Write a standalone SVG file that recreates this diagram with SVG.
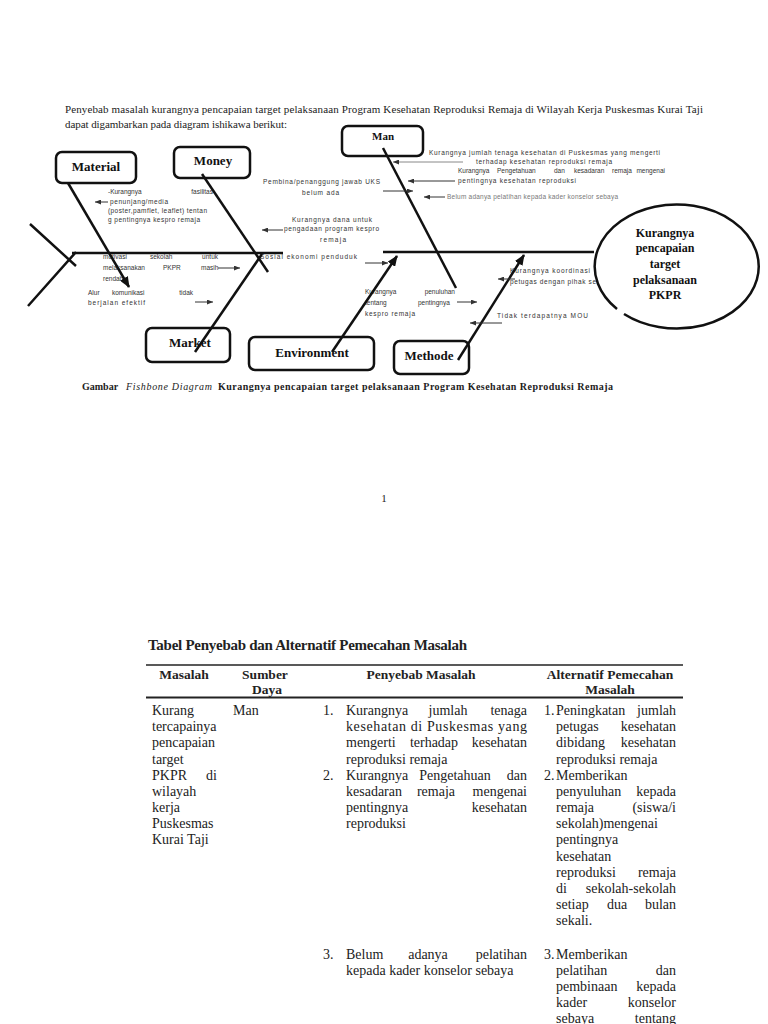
<svg xmlns="http://www.w3.org/2000/svg" width="768" height="1024" viewBox="0 0 768 1024">
<defs>
<style>
.t{font-family:"Liberation Serif",serif;fill:#222}
.hd{font-size:11px}
.sm{font-family:"Liberation Sans",sans-serif;font-size:6.5px;fill:#333}
.box{fill:#fff;stroke:#111;stroke-width:2.5}
.lbl{font-family:"Liberation Serif",serif;font-weight:bold;font-size:13px;text-anchor:middle;fill:#111}
.bone{stroke:#111;stroke-width:2.5;fill:none}
.arr{stroke:#333;stroke-width:1;fill:none;marker-end:url(#sa)}
.tb{font-size:14px}
.th{font-size:13.5px;font-weight:bold;text-anchor:middle}
.rule{stroke:#222;fill:none}
.e{text-anchor:end}
.m{text-anchor:middle}
</style>
<marker id="ba" markerUnits="userSpaceOnUse" markerWidth="11" markerHeight="9" refX="10" refY="4.5" orient="auto"><path d="M0,0 L11,4.5 L0,9 z" fill="#111"/></marker>
<marker id="sa" markerUnits="userSpaceOnUse" markerWidth="6" markerHeight="5" refX="6" refY="2.5" orient="auto"><path d="M0,0 L6,2.5 L0,5 z" fill="#333"/></marker>
</defs>
<rect width="768" height="1024" fill="#fff"/>

<g id="intro" class="t hd">
<text x="65" y="113" textLength="638" lengthAdjust="spacing">Penyebab masalah kurangnya pencapaian target pelaksanaan Program Kesehatan Reproduksi Remaja di Wilayah Kerja Puskesmas Kurai Taji</text>
<text x="65" y="128" textLength="222" lengthAdjust="spacing">dapat digambarkan pada diagram ishikawa berikut:</text>
</g>

<g id="cause-labels" class="sm">
<text x="108" y="194">-Kurangnya</text>
<text x="213" y="194" class="e">fasilitas</text>
<text x="110" y="204" textLength="58" lengthAdjust="spacing">penunjang/media</text>
<text x="108" y="213" textLength="99" lengthAdjust="spacing">(poster,pamflet, leaflet) tentan</text>
<text x="108" y="222" textLength="92" lengthAdjust="spacing">g pentingnya kespro remaja</text>
<text x="292" y="222" textLength="80" lengthAdjust="spacing">Kurangnya dana untuk</text>
<text x="284" y="231" textLength="95" lengthAdjust="spacing">pengadaan program kespro</text>
<text x="320" y="242" textLength="26" lengthAdjust="spacing">remaja</text>
<text x="263" y="184" textLength="117" lengthAdjust="spacing">Pembina/penanggung jawab UKS</text>
<text x="302" y="195" textLength="37" lengthAdjust="spacing">belum ada</text>
<text x="429" y="155" textLength="231" lengthAdjust="spacing">Kurangnya jumlah tenaga kesehatan di Puskesmas yang mengerti</text>
<text x="476" y="164" textLength="136" lengthAdjust="spacing">terhadap kesehatan reproduksi remaja</text>
<text x="458" y="173">Kurangnya</text>
<text x="497" y="173">Pengetahuan</text>
<text x="554" y="173">dan</text>
<text x="574" y="173">kesadaran</text>
<text x="612" y="173">remaja</text>
<text x="665" y="173" class="e">mengenai</text>
<text x="458" y="183" textLength="118" lengthAdjust="spacing">pentingnya kesehatan reproduksi</text>
<text x="447" y="199" textLength="171" lengthAdjust="spacing" fill="#777">Belum adanya pelatihan kepada kader konselor sebaya</text>
<text x="103" y="259">motivasi</text>
<text x="150" y="259">sekolah</text>
<text x="218" y="259" class="e">untuk</text>
<text x="103" y="270">melaksanakan</text>
<text x="163" y="270">PKPR</text>
<text x="201" y="270">masih</text>
<text x="103" y="281">rendah</text>
<text x="88" y="295">Alur</text>
<text x="112" y="295">komunikasi</text>
<text x="193" y="295" class="e">tidak</text>
<text x="88" y="305" textLength="57" lengthAdjust="spacing">berjalan efektif</text>
<text x="260" y="259" textLength="97" lengthAdjust="spacing">Sosial ekonomi penduduk</text>
<text x="365" y="294">Kurangnya</text>
<text x="455" y="294" class="e">penuluhan</text>
<text x="365" y="305">tentang</text>
<text x="418" y="305">pentingnya</text>
<text x="365" y="316" textLength="50" lengthAdjust="spacing">kespro remaja</text>
<text x="510" y="273" textLength="80" lengthAdjust="spacing">Kurangnya koordinasi</text>
<text x="510" y="284" textLength="86" lengthAdjust="spacing">petugas dengan pihak se</text>
<text x="497" y="318" textLength="91" lengthAdjust="spacing">Tidak terdapatnya MOU</text>
</g>

<g id="node-material"><rect class="box" x="56" y="152" width="80" height="31" rx="6"/><text class="lbl" x="96" y="171">Material</text></g>
<g id="node-money"><rect class="box" x="174" y="147" width="76" height="31" rx="6"/><text class="lbl" x="213" y="165">Money</text></g>
<g id="node-man"><rect class="box" x="342" y="126" width="81" height="30" rx="6"/><text class="lbl" x="383" y="140" style="font-size:11px">Man</text></g>
<g id="node-market"><rect class="box" x="146" y="328" width="84" height="34" rx="6"/><text class="lbl" x="190" y="347">Market</text></g>
<g id="node-environment"><rect class="box" x="249" y="337" width="125" height="33" rx="6"/><text class="lbl" x="312" y="357">Environment</text></g>
<g id="node-methode"><rect class="box" x="394" y="341" width="75" height="33" rx="6"/><text class="lbl" x="429" y="360">Methode</text></g>

<g id="connectors">
<path class="bone" d="M72,253 H283 M383,252 H594"/>
<path class="bone" d="M30,224 L76,266 M76,252 L28,306"/>
<path class="bone" d="M68,183 L129,287" marker-end="url(#ba)"/>
<path class="bone" d="M202,174 L268,272"/>
<path class="bone" d="M383,148 L456,288"/>
<path class="bone" d="M195,352 L262,254"/>
<path class="bone" d="M332,352 L397,256" marker-end="url(#ba)"/>
<path class="bone" d="M458,360 L524,255" marker-end="url(#ba)"/>
<path class="arr" d="M108,202 H95"/>
<path class="arr" d="M283,230 H262"/>
<path class="arr" d="M463,162 H393" style="stroke:#888"/>
<path class="arr" d="M383,191 H413"/>
<path class="arr" d="M455,181 H408"/>
<path class="arr" d="M445,197 H424"/>
<path class="arr" d="M218,268 H240"/>
<path class="arr" d="M195,302 H213"/>
<path class="arr" d="M365,263 H388"/>
<path class="arr" d="M457,302 H477"/>
<path class="arr" d="M515,279 H498"/>
<path class="arr" d="M502,323 H470"/>
</g>

<g id="node-effect">
<path d="M617,309 A82,62 0 1 1 624,314" fill="#fff" stroke="#111" stroke-width="2.5"/>
<g class="lbl" style="font-size:12px">
<text x="665" y="237">Kurangnya</text>
<text x="665" y="252">pencapaian</text>
<text x="665" y="268">target</text>
<text x="665" y="284">pelaksanaan</text>
<text x="665" y="299">PKPR</text>
</g>
</g>

<g id="caption" class="t" style="font-size:10px">
<text x="82" y="390" font-weight="bold">Gambar</text>
<text x="126" y="390" font-style="italic" textLength="86" lengthAdjust="spacing">Fishbone Diagram</text>
<text x="218" y="390" font-weight="bold" textLength="395" lengthAdjust="spacing">Kurangnya pencapaian target pelaksanaan Program Kesehatan Reproduksi Remaja</text>
</g>

<text class="t" x="384" y="502" style="font-size:11px" text-anchor="middle">1</text>

<g id="table" class="t">
<text x="148" y="650" style="font-size:15px;font-weight:bold" textLength="319" lengthAdjust="spacing">Tabel Penyebab dan Alternatif Pemecahan Masalah</text>
<path class="rule" d="M146,665 H683" stroke-width="1.5"/>
<path class="rule" d="M146,697.5 H683" stroke-width="2"/>
<text class="th" x="184" y="679">Masalah</text>
<text class="th" x="265" y="679">Sumber</text>
<text class="th" x="267" y="694">Daya</text>
<text class="th" x="421" y="679">Penyebab Masalah</text>
<text class="th" x="610" y="679">Alternatif Pemecahan</text>
<text class="th" x="610" y="694">Masalah</text>

<g class="tb">
<text x="152" y="715">Kurang</text>
<text x="152" y="731">tercapainya</text>
<text x="152" y="747">pencapaian</text>
<text x="152" y="764">target</text>
<text x="152" y="780">PKPR</text><text x="217" y="780" class="e">di</text>
<text x="152" y="796">wilayah</text>
<text x="152" y="812">kerja</text>
<text x="152" y="828">Puskesmas</text>
<text x="152" y="844">Kurai Taji</text>

<text x="233" y="715">Man</text>

<text x="323" y="715">1.</text>
<text x="346" y="715">Kurangnya</text><text x="448" y="715" class="m">jumlah</text><text x="527" y="715" class="e">tenaga</text>
<text x="346" y="731" textLength="181" lengthAdjust="spacing">kesehatan di Puskesmas yang</text>
<text x="346" y="747">mengerti</text><text x="434" y="747" class="m">terhadap</text><text x="527" y="747" class="e">kesehatan</text>
<text x="346" y="764">reproduksi remaja</text>
<text x="323" y="780">2.</text>
<text x="346" y="780">Kurangnya</text><text x="455" y="780" class="m">Pengetahuan</text><text x="527" y="780" class="e">dan</text>
<text x="346" y="796">kesadaran</text><text x="436" y="796" class="m">remaja</text><text x="527" y="796" class="e">mengenai</text>
<text x="346" y="812">pentingnya</text><text x="527" y="812" class="e">kesehatan</text>
<text x="346" y="828">reproduksi</text>
<text x="323" y="959">3.</text>
<text x="346" y="959">Belum</text><text x="428" y="959" class="m">adanya</text><text x="527" y="959" class="e">pelatihan</text>
<text x="346" y="975">kepada kader konselor sebaya</text>

<text x="544" y="715">1.</text>
<text x="556" y="715">Peningkatan</text><text x="676" y="715" class="e">jumlah</text>
<text x="556" y="731">petugas</text><text x="676" y="731" class="e">kesehatan</text>
<text x="556" y="747">dibidang</text><text x="676" y="747" class="e">kesehatan</text>
<text x="556" y="764">reproduksi remaja</text>
<text x="544" y="780">2.</text>
<text x="556" y="780">Memberikan</text>
<text x="556" y="796">penyuluhan</text><text x="676" y="796" class="e">kepada</text>
<text x="556" y="812">remaja</text><text x="676" y="812" class="e">(siswa/i</text>
<text x="556" y="828">sekolah)mengenai</text>
<text x="556" y="844">pentingnya</text>
<text x="556" y="861">kesehatan</text>
<text x="556" y="877">reproduksi</text><text x="676" y="877" class="e">remaja</text>
<text x="556" y="893">di</text><text x="676" y="893" class="e">sekolah-sekolah</text>
<text x="556" y="909">setiap</text><text x="617" y="909" class="m">dua</text><text x="676" y="909" class="e">bulan</text>
<text x="556" y="925">sekali.</text>
<text x="544" y="959">3.</text>
<text x="556" y="959">Memberikan</text>
<text x="556" y="975">pelatihan</text><text x="676" y="975" class="e">dan</text>
<text x="556" y="991">pembinaan</text><text x="676" y="991" class="e">kepada</text>
<text x="556" y="1007">kader</text><text x="676" y="1007" class="e">konselor</text>
<text x="556" y="1023">sebaya</text><text x="676" y="1023" class="e">tentang</text>
</g>
</g>
</svg>
